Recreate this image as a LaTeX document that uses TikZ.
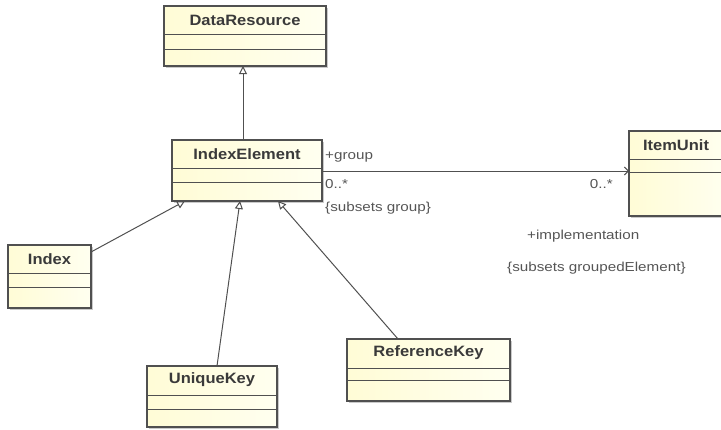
\documentclass[tikz,border=0pt]{standalone}
\usepackage{fontspec}
\setmainfont{Liberation Sans}
\newfontfamily\labfont[FakeStretch=1.17]{Liberation Sans}
\newfontfamily\namefont[FakeStretch=1.1]{Liberation Sans}
\usetikzlibrary{arrows.meta,shadows}
\definecolor{boxline}{HTML}{505050}
\definecolor{fillL}{HTML}{FFFCD6}
\definecolor{fillR}{HTML}{FFFFF0}
\definecolor{txt}{HTML}{3A3A3A}
\definecolor{lbl}{HTML}{555555}
\begin{document}
\begin{tikzpicture}[x=1pt,y=-1pt,
  cls/.style={draw=boxline,line width=1.2pt,left color=fillL,right color=fillR,anchor=north west,inner sep=0pt,outer sep=0pt,
    drop shadow={shadow xshift=2pt,shadow yshift=-2pt,fill=black!35,opacity=0.6}},
  cname/.style={font=\namefont\bfseries\fontsize{15}{17}\selectfont,text=txt,inner sep=0pt},
  lab/.style={font=\labfont\fontsize{13}{15}\selectfont,text=lbl,inner sep=0pt,anchor=west},
  gen/.style={draw=boxline,line width=1pt,-{Triangle[open,length=8pt,width=8pt]}},
  assoc/.style={draw=boxline,line width=1pt,-{Straight Barb[length=4pt,width=8pt]}},
  sep/.style={draw=boxline,line width=1pt}]
\useasboundingbox (0,0) rectangle (721,429);
\clip (0,0) rectangle (721,429);

% DataResource
\node[cls,minimum width=162pt,minimum height=60pt] (dr) at (164,6) {};
\node[cname] (drn) at (245,20) {DataResource};
\draw[sep] (dr.west |- 0,34) -- (dr.east |- 0,34);
\draw[sep] (dr.west |- 0,49) -- (dr.east |- 0,49);

% IndexElement
\node[cls,minimum width=150pt,minimum height=61pt] (ie) at (172,140) {};
\node[cname] (ien) at (247,154) {IndexElement};
\draw[sep] (ie.west |- 0,168) -- (ie.east |- 0,168);
\draw[sep] (ie.west |- 0,182) -- (ie.east |- 0,182);

% ItemUnit
\node[cls,minimum width=100pt,minimum height=85pt] (iu) at (629,131) {};
\node[cname] (iun) at (676,145) {ItemUnit};
\draw[sep] (iu.west |- 0,159) -- (iu.east |- 0,159);
\draw[sep] (iu.west |- 0,172) -- (iu.east |- 0,172);

% Index
\node[cls,minimum width=83pt,minimum height=63pt] (ix) at (8,245) {};
\node[cname] (ixn) at (49.5,259) {Index};
\draw[sep] (ix.west |- 0,273) -- (ix.east |- 0,273);
\draw[sep] (ix.west |- 0,287) -- (ix.east |- 0,287);

% UniqueKey
\node[cls,minimum width=130pt,minimum height=61pt] (uk) at (147,366) {};
\node[cname] (ukn) at (212,380) {UniqueKey};
\draw[sep] (uk.west |- 0,395) -- (uk.east |- 0,395);
\draw[sep] (uk.west |- 0,409) -- (uk.east |- 0,409);

% ReferenceKey
\node[cls,minimum width=163pt,minimum height=62pt] (rk) at (347,339) {};
\node[cname] (rkn) at (428.5,353) {ReferenceKey};
\draw[sep] (rk.west |- 0,368) -- (rk.east |- 0,368);
\draw[sep] (rk.west |- 0,380) -- (rk.east |- 0,380);

% generalizations
\draw[gen] (ie.north -| 243,0) -- (dr.south -| 243,0);
\draw[gen] (ix.east |- 0,252) -- (ie.south -| 185,0);
\draw[gen] (uk.north -| 217,0) -- (ie.south -| 240,0);
\draw[gen] (rk.north -| 398,0) -- (ie.south -| 278,0);

% association
\draw[assoc] (ie.east |- 0,171) -- (iu.west |- 0,171);

% labels
\node[lab] (l1) at (325,157) {+group};
\node[lab] (l2) at (325,184) {0..*};
\node[lab] (l3) at (325,208) {\{subsets group\}};
\node[lab,anchor=east] (l4) at (613,184) {0..*};
\node[lab] (l5) at (527,236) {+implementation};
\node[lab] (l6) at (507,268) {\{subsets groupedElement\}};
\end{tikzpicture}
\end{document}
